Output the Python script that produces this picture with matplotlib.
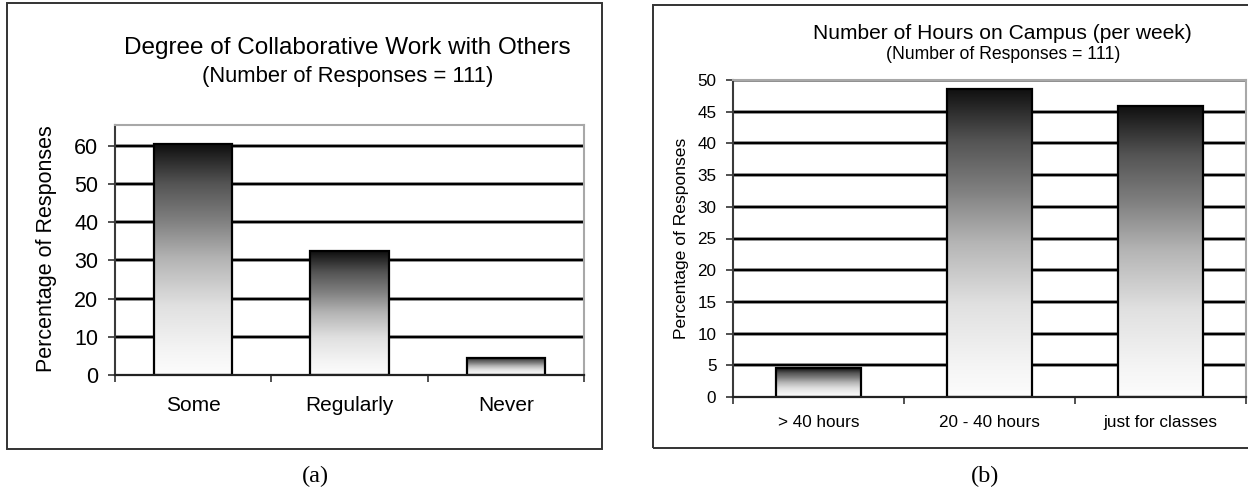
import numpy as np
import matplotlib
matplotlib.use("Agg")
import matplotlib.pyplot as plt
from matplotlib.colors import LinearSegmentedColormap
from matplotlib.patches import Rectangle

# ---- data -------------------------------------------------------------
collab_categories = ["Some", "Regularly", "Never"]
collab_percent = [60.4, 32.4, 4.5]
collab_title = "Degree of Collaborative Work with Others"
collab_subtitle = "(Number of Responses = 111)"
collab_yticks = [0, 10, 20, 30, 40, 50, 60]

hours_categories = ["> 40 hours", "20 - 40 hours", "just for classes"]
hours_percent = [4.5, 48.6, 45.9]
hours_title = "Number of Hours on Campus (per week)"
hours_subtitle = "(Number of Responses = 111)"
hours_yticks = [0, 5, 10, 15, 20, 25, 30, 35, 40, 45, 50]

ylabel_text = "Percentage of Responses"

# ---- figure -------------------------------------------------------------
W, H = 1248, 495
fig = plt.figure(figsize=(W / 100, H / 100), dpi=100)
fig.patch.set_facecolor("white")
SANS = ["Liberation Sans", "DejaVu Sans"]
SERIF = ["Liberation Serif", "DejaVu Serif"]


def fx(x):
    return x / W


def fy(y):
    return 1 - y / H


# vertical black-to-white fill used inside every bar (top dark, bottom light)
bar_cmap = LinearSegmentedColormap.from_list(
    "bar_fill",
    [(0.0, (0.99,) * 3), (0.1, (0.96,) * 3), (0.3, (0.88,) * 3),
     (0.5, (0.71,) * 3), (0.67, (0.50,) * 3), (0.83, (0.33,) * 3),
     (1.0, (0.06,) * 3)])
gradient = np.linspace(0, 1, 256).reshape(-1, 1)


def draw_panel(ax, cats, values, yticks, ylim, fs_tick, fs_xlab, xpad):
    x = np.arange(len(cats))
    ax.set_xlim(-0.5, len(cats) - 0.5)
    ax.set_ylim(*ylim)

    # horizontal gridlines: black core with a soft grey rim
    for t in yticks[1:]:
        ax.axhline(t, color="#808080", lw=2.6, zorder=1)
        ax.axhline(t, color="black", lw=1.5, zorder=1.1)

    bars = ax.bar(x, values, width=0.5, facecolor="none",
                  edgecolor="black", linewidth=1.6, zorder=3)
    for b in bars:
        x0, y0 = b.get_x(), b.get_y()
        x1, y1 = x0 + b.get_width(), y0 + b.get_height()
        # white backing hides gridlines behind the bar
        ax.add_patch(Rectangle((x0, y0), b.get_width(), b.get_height(),
                               facecolor="white", edgecolor="none", zorder=2))
        im = ax.imshow(gradient, cmap=bar_cmap, aspect="auto",
                       extent=(x0, x1, y0, y1), origin="lower",
                       interpolation="bilinear", zorder=2.5)
        im.set_clip_path(b)

    ax.set_xlim(-0.5, len(cats) - 0.5)
    ax.set_ylim(*ylim)

    ax.set_yticks(yticks)
    ax.set_yticklabels([str(t) for t in yticks], fontsize=fs_tick, family=SANS)
    ax.tick_params(axis="y", direction="out", length=5, width=1.2,
                   color="#333333", pad=7)

    ax.set_xticks(x)
    ax.set_xticklabels(cats, fontsize=fs_xlab, family=SANS)
    ax.tick_params(axis="x", which="major", length=0, pad=xpad)
    ax.set_xticks(np.arange(len(cats) + 1) - 0.5, minor=True)
    ax.tick_params(axis="x", which="minor", direction="out", length=5,
                   width=1.2, color="#333333")

    ax.spines["left"].set_color("#3a3a3a")
    ax.spines["left"].set_linewidth(1.5)
    ax.spines["bottom"].set_color("#222222")
    ax.spines["bottom"].set_linewidth(1.6)
    for s in ("top", "right"):
        ax.spines[s].set_color("#a8a8a8")
        ax.spines[s].set_linewidth(1.5)
    for s in ax.spines.values():
        s.set_zorder(4)


# ---- panel (a) ----------------------------------------------------------
ax_a = fig.add_axes([fx(115), fy(375), fx(584) - fx(115), fy(125) - fy(375)])
draw_panel(ax_a, collab_categories, collab_percent, collab_yticks,
           (0, 65.4), 15.5, 15, 15)
fig.text(fx(47), fy(249), ylabel_text, rotation=90, ha="center", va="center",
         fontsize=15.5, family=SANS)
fig.text(fx(347), fy(54), collab_title, ha="center", va="baseline",
         fontsize=17.5, family=SANS)
fig.text(fx(348), fy(82), collab_subtitle, ha="center", va="baseline",
         fontsize=15.8, family=SANS)
fig.patches.append(Rectangle((fx(7), fy(449)), fx(602) - fx(7),
                             fy(3) - fy(449), transform=fig.transFigure,
                             facecolor="none", edgecolor="#333333", lw=1.4))
fig.text(fx(315), fy(476), "(a)", ha="center", va="center",
         fontsize=17.5, family=SERIF)

# ---- panel (b) ----------------------------------------------------------
ax_b = fig.add_axes([fx(733), fy(397), fx(1246) - fx(733), fy(80) - fy(397)])
draw_panel(ax_b, hours_categories, hours_percent, hours_yticks,
           (0, 50), 12.3, 12.3, 13)
fig.text(fx(682), fy(238), ylabel_text, rotation=90, ha="center", va="center",
         fontsize=12.6, family=SANS)
fig.text(fx(1002), fy(39), hours_title, ha="center", va="baseline",
         fontsize=15.1, family=SANS)
fig.text(fx(1003), fy(59), hours_subtitle, ha="center", va="baseline",
         fontsize=12.7, family=SANS)
fig.patches.append(Rectangle((fx(653), fy(448)), fx(1262) - fx(653),
                             fy(5) - fy(448), transform=fig.transFigure,
                             facecolor="none", edgecolor="#333333", lw=1.4))
fig.text(fx(985), fy(476), "(b)", ha="center", va="center",
         fontsize=17.5, family=SERIF)

fig.savefig("out.png", dpi=100)
